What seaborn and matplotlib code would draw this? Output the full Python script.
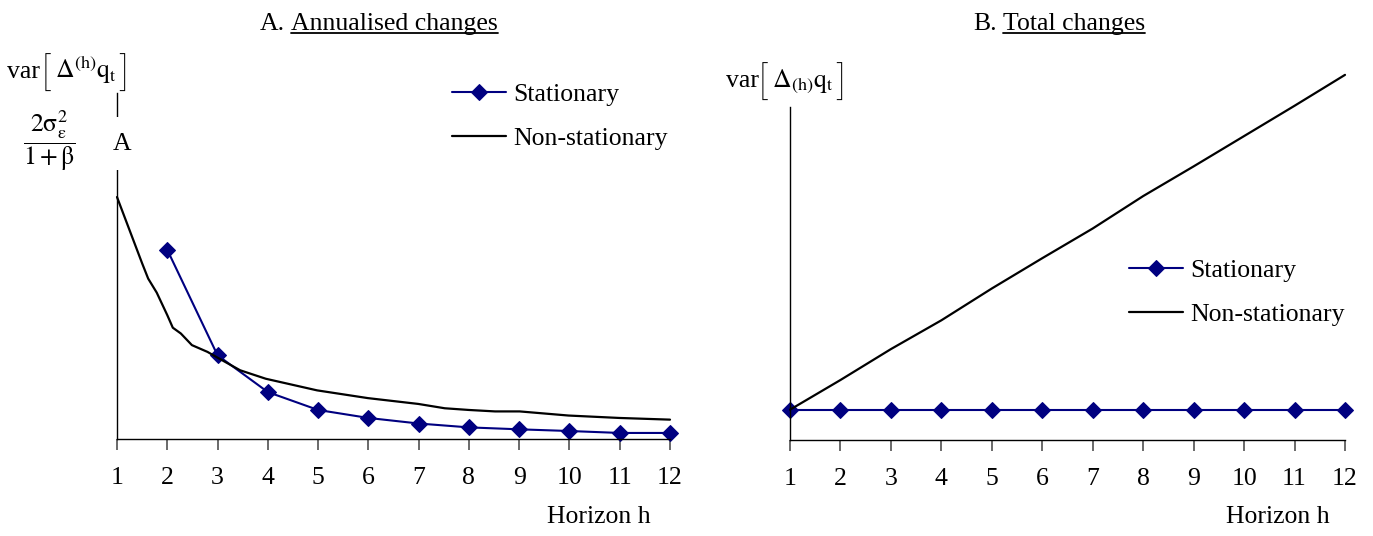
import matplotlib
matplotlib.use("Agg")
import matplotlib.pyplot as plt
from matplotlib.lines import Line2D
import seaborn as sns
import pandas as pd

# ---- data -------------------------------------------------------------
horizons = [1, 2, 3, 4, 5, 6, 7, 8, 9, 10, 11, 12]

# Panel A: annualised changes
stat_h_a = [2, 3, 4, 5, 6, 7, 8, 9, 10, 11, 12]
stat_var_a = [0.782, 0.346, 0.194, 0.120, 0.087, 0.064, 0.048, 0.040, 0.033, 0.025, 0.025]
nonstat_h_a = [1.0, 1.25, 1.5, 1.62, 1.79, 2.0, 2.11, 2.27, 2.49, 2.8, 3.01, 3.45,
               3.96, 4.98, 5.99, 6.99, 7.52, 8.0, 8.52, 9.01, 9.98, 10.99, 12.0]
nonstat_var_a = [1.0, 0.863, 0.726, 0.663, 0.605, 0.512, 0.460, 0.436, 0.388, 0.360,
                 0.335, 0.284, 0.249, 0.201, 0.169, 0.145, 0.127, 0.120, 0.114, 0.114,
                 0.097, 0.087, 0.080]

# Panel B: total changes
stat_var_b = [1, 1, 1, 1, 1, 1, 1, 1, 1, 1, 1, 1]
nonstat_var_b = [1.0, 1.98, 3.0, 3.95, 5.0, 6.0, 6.98, 8.05, 9.03, 10.03, 11.03, 12.05]

tick_labels = [str(h) for h in horizons]
series_names = ["Stationary", "Non-stationary"]

# ---- style ------------------------------------------------------------
sns.set_theme(style="white")
plt.rcParams["font.family"] = ["Liberation Serif", "DejaVu Serif"]
plt.rcParams["mathtext.fontset"] = "stix"
plt.rcParams["text.color"] = "black"
plt.rcParams["xtick.color"] = "black"
plt.rcParams["axes.labelcolor"] = "black"

NAVY = "#000080"
FS = 18.5
BR = 28  # size of the square brackets around the variance labels

W, H = 1373, 536
fig = plt.figure(figsize=(W / 100, H / 100), dpi=100)


def fx(x):
    return x / W


def fy(y):
    return 1 - y / H


axL = fig.add_axes([fx(117), fy(439), 553 / W, 346 / H])
axR = fig.add_axes([fx(790), fy(440), 555 / W, 381.8 / H])

dfA_s = pd.DataFrame({"h": stat_h_a, "v": stat_var_a})
dfA_n = pd.DataFrame({"h": nonstat_h_a, "v": nonstat_var_a})
dfB = pd.DataFrame({"h": horizons, "s": stat_var_b, "n": nonstat_var_b})

sns.lineplot(data=dfA_s, x="h", y="v", ax=axL, color=NAVY, lw=1.5, marker="D",
             markersize=8, markeredgecolor=NAVY, label=series_names[0],
             estimator=None)
sns.lineplot(data=dfA_n, x="h", y="v", ax=axL, color="black", lw=1.6,
             label=series_names[1], estimator=None)

sns.lineplot(data=dfB, x="h", y="s", ax=axR, color=NAVY, lw=1.5, marker="D",
             markersize=8, markeredgecolor=NAVY, label=series_names[0],
             estimator=None)
sns.lineplot(data=dfB, x="h", y="n", ax=axR, color="black", lw=1.6,
             label=series_names[1], estimator=None)

for ax in (axL, axR):
    for ln in ax.get_lines():
        ln.set_clip_on(False)
    ax.set_xlim(1, 12)
    ax.set_xticks(horizons)
    ax.set_xticklabels(tick_labels, fontsize=FS, color="black")
    ax.set_yticks([])
    ax.set_xlabel("")
    ax.set_ylabel("")
    for side in ("top", "right"):
        ax.spines[side].set_visible(False)
    for side in ("left", "bottom"):
        ax.spines[side].set_color("black")
        ax.spines[side].set_linewidth(1.0)
    ax.tick_params(axis="x", direction="out", length=8, width=1.2,
                   color="#505050", pad=12, bottom=True)
    ax.set_facecolor("none")

axL.set_ylim(0, 1.43)
axR.set_ylim(0, 12.6)
axR.spines["left"].set_bounds(0, 11.0)

# axis-top marker label on panel A
axL.annotate("A", xy=(1, 1.22), xytext=(4, 0), textcoords="offset points",
             ha="center", va="center", fontsize=FS, annotation_clip=False,
             bbox=dict(boxstyle="square,pad=0.6", fc="white", ec="none"),
             zorder=5)

# legends
legkw = dict(frameon=False, fontsize=FS, handlelength=2.1, handletextpad=0.3,
             labelspacing=0.82, borderpad=0, borderaxespad=0, loc="upper left",
             bbox_transform=fig.transFigure)
axL.legend(bbox_to_anchor=(fx(452), fy(83)), **legkw)
axR.legend(bbox_to_anchor=(fx(1129), fy(259)), **legkw)

# horizon labels
fig.text(fx(651), fy(517), "Horizon h", ha="right", va="center", fontsize=FS)
fig.text(fx(1330), fy(517), "Horizon h", ha="right", va="center", fontsize=FS)


def var_label(x_var, x_lb, x_body, x_rb, base, body):
    """var[ ... ] label built from pieces so the brackets can be tall and thin."""
    brk = dict(ha="left", va="baseline", fontsize=BR, family="Roboto",
               fontweight="light")
    fig.text(fx(x_var), fy(base), "var", ha="left", va="baseline", fontsize=FS)
    fig.text(fx(x_lb), fy(base + 8), "[", **brk)
    fig.text(fx(x_body), fy(base), body, ha="left", va="baseline", fontsize=FS)
    fig.text(fx(x_rb), fy(base + 8), "]", **brk)


var_label(7, 42, 55, 119, 78,
          r"$\Delta^{(\mathrm{h})}\mathrm{q}_{\mathrm{t}}$")
var_label(726, 759, 772, 836, 87,
          r"$\Delta_{(\mathrm{h})}\mathrm{q}_{\mathrm{t}}$")

fig.text(fx(49), fy(141),
         r"$\dfrac{2\mathrm{\sigma}_{\mathrm{\varepsilon}}^{2}}{1+\mathrm{\beta}}$",
         ha="center", va="center", fontsize=FS)

# panel titles with underlined captions
titles = [("A.", "Annualised changes", 285, 291), ("B.", "Total changes", 997, 1003)]
under = []
for prefix, caption, xr, xl in titles:
    fig.text(fx(xr), fy(30), prefix, ha="right", va="baseline", fontsize=FS)
    t = fig.text(fx(xl), fy(30), caption, ha="left", va="baseline", fontsize=FS)
    under.append(t)

fig.canvas.draw()
renderer = fig.canvas.get_renderer()
for t in under:
    bb = t.get_window_extent(renderer)
    x0, x1 = bb.x0 / W, bb.x1 / W
    yb = fy(33)
    fig.add_artist(Line2D([x0, x1], [yb, yb], transform=fig.transFigure,
                          color="black", lw=1.3))

fig.savefig("out.png", dpi=100, facecolor="white")
